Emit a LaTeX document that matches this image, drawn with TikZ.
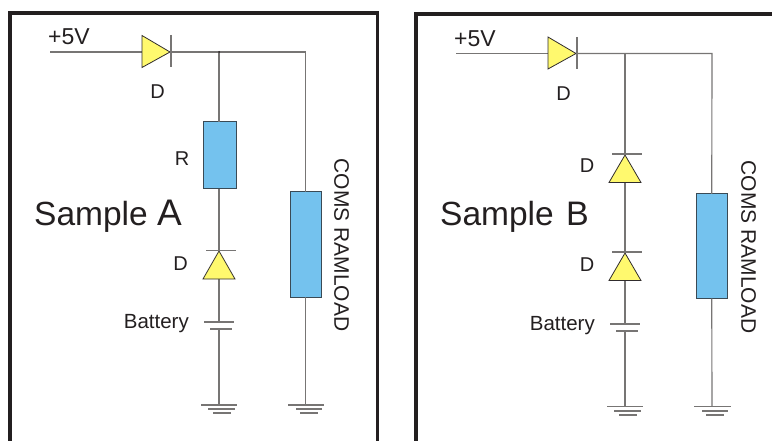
\documentclass[tikz,border=0pt]{standalone}
\usepackage{fontspec}
\setmainfont{Liberation Sans}
\definecolor{wirec}{HTML}{777574}
\definecolor{framec}{HTML}{231F20}
\definecolor{loadc}{HTML}{74C2EE}
\definecolor{diodec}{HTML}{FFF96E}
\definecolor{edgec}{HTML}{3A4A55}
\definecolor{textc}{HTML}{231F20}
\tikzset{
  wire/.style={draw=wirec,line width=1.15pt},
  framebox/.style={draw=framec,line width=3.8pt,line join=miter},
  part/.style={draw=edgec,fill=loadc,line width=1pt,inner sep=0pt,outer sep=0pt},
  diodeshape/.style={draw=framec!85!wirec,fill=diodec,line width=0.8pt,line join=miter},
  lbl/.style={text=textc,inner sep=0pt,font=\fontsize{20}{20}\selectfont,anchor=center},
  battlbl/.style={text=textc,inner sep=0pt,font=\fontsize{20.5}{20.5}\selectfont,anchor=east},
  vlbl/.style={text=textc,inner sep=0pt,font=\fontsize{21}{21}\selectfont,rotate=-90,anchor=center},
  biglbl/.style={text=textc,inner sep=0pt,font=\fontsize{33.5}{33.5}\selectfont,anchor=west},
}
\begin{document}
\begin{tikzpicture}[x=1pt,y=-1pt]
\useasboundingbox (0,0) rectangle (772,441);
% frames
\draw[framebox] (10,441) -- (10,13) -- (377.5,13) -- (377.5,441);
\draw[framebox] (416,441) -- (416,14) -- (772,14);
% ---- Sample A ----
\coordinate (a5v) at (50,52);
\coordinate (aan) at (142,52);
\coordinate (acat) at (171,52);
\coordinate (aj) at (219,52);
\coordinate (ac) at (305.5,52);
\coordinate (ad2k) at (219,250);
\coordinate (ad2a) at (219,279);
\coordinate (ab1) at (219,322);
\coordinate (ab2) at (219,329);
\coordinate (ag1) at (219,405);
\coordinate (ag2) at (305.5,405);
\node[part,minimum width=33pt,minimum height=67pt] (ar) at (219.5,155.5) {};
\node[part,minimum width=31pt,minimum height=105pt] (al) at (305.5,244.5) {};
\draw[wire] (a5v) -- (aan);
\draw[wire] (acat) -- (aj) -- (ac) -- (al.north);
\draw[wire] (aj) -- (aj |- ar.north);
\draw[wire] (aj |- ar.south) -- (ad2k);
\draw[wire] (ad2a) -- (ab1);
\draw[wire] (ab2) -- (ag1);
\draw[wire] (al.south) -- (ag2);
\fill[framec] (aj) circle (1pt);
\draw[diodeshape] (142,35.5) -- (142,67.5) -- (170,52) -- cycle;
\draw[wire] (171,35) -- (171,67.5);
\draw[diodeshape] (219,251) -- (203,279) -- (235,279) -- cycle;
\draw[wire] (206,250.5) -- (236,250.5);
\draw[wire] (204,322) -- (234,322);
\draw[wire] (210,329) -- (232,329);
\draw[wire] (201,405) -- (237,405);
\draw[wire] (208,409) -- (235,409);
\draw[wire] (213,413) -- (231,413);
\draw[wire] (288,405) -- (324,405);
\draw[wire] (296,409) -- (322,409);
\draw[wire] (300,413) -- (318,413);
\node[lbl,font=\fontsize{23}{23}\selectfont] (at5) at (69,37) {+5V};
\node[lbl] (atd1) at (157.5,91.5) {D};
\node[lbl] (atr) at (182,158.5) {R};
\node[lbl] (atd2) at (180.5,263.5) {D};
\node[battlbl] (atb) at (189,323.5) {Battery};
\node[biglbl] (ats) at (34,216) {Sample {\fontsize{37}{37}\selectfont A}};
\node[vlbl] (atc) at (341.5,245) {COMS RAMLOAD};
% ---- Sample B ----
\coordinate (b5v) at (456,53.5);
\coordinate (ban) at (548,53.5);
\coordinate (bcat) at (577,53.5);
\coordinate (bj) at (625,53.5);
\coordinate (bc) at (712,53.5);
\coordinate (bd1k) at (625,154);
\coordinate (bd1a) at (625,182);
\coordinate (bd2k) at (625,252);
\coordinate (bd2a) at (625,280);
\coordinate (bb1) at (625,324);
\coordinate (bb2) at (625,331);
\coordinate (bg1) at (625,406.5);
\coordinate (bg2) at (712,406.5);
\node[part,minimum width=30.5pt,minimum height=104.5pt] (bl) at (711.75,246.25) {};
\draw[wire] (b5v) -- (ban);
\draw[wire] (bcat) -- (bj) -- (bc) -- (bl.north);
\draw[wire] (bj) -- (bd1k);
\draw[wire] (bd1a) -- (bd2k);
\draw[wire] (bd2a) -- (bb1);
\draw[wire] (bb2) -- (bg1);
\draw[wire] (bl.south) -- (bg2);
\draw[diodeshape] (548,37) -- (548,69) -- (576,53.5) -- cycle;
\draw[wire] (577,37) -- (577,69);
\draw[diodeshape] (625,155) -- (609,182.5) -- (641,182.5) -- cycle;
\draw[wire] (612,154) -- (642,154);
\draw[diodeshape] (625,253) -- (609,280.5) -- (641,280.5) -- cycle;
\draw[wire] (612,252) -- (642,252);
\draw[wire] (610,324) -- (640,324);
\draw[wire] (616,331) -- (638,331);
\draw[wire] (607,406.5) -- (643,406.5);
\draw[wire] (614,411) -- (641,411);
\draw[wire] (619,415) -- (637,415);
\draw[wire] (694,406.5) -- (730.5,406.5);
\draw[wire] (702,411) -- (728,411);
\draw[wire] (706,415) -- (724,415);
\node[lbl,font=\fontsize{23}{23}\selectfont] (bt5) at (475,38.5) {+5V};
\node[lbl] (btd1) at (563.5,93.5) {D};
\node[lbl] (btd2) at (587,165.5) {D};
\node[lbl] (btd3) at (587,264.5) {D};
\node[battlbl] (btb) at (595,325.5) {Battery};
\node[biglbl] (bts) at (440,217) {Sample\hspace{3pt} {\fontsize{34}{34}\selectfont B}};
\node[vlbl] (btc) at (748.5,247) {COMS RAMLOAD};
\end{tikzpicture}
\end{document}
